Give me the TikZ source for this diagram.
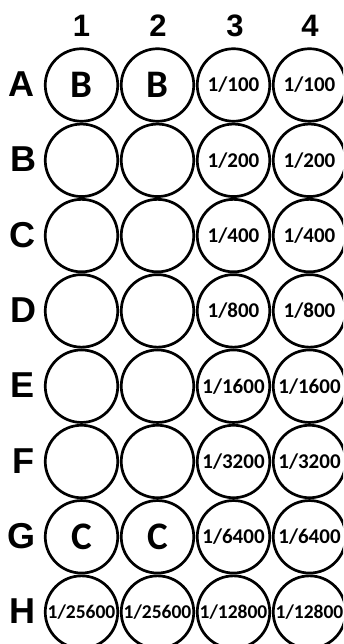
\documentclass[tikz,border=0pt]{standalone}
\usepackage{fontspec}
\setmainfont{Carlito}
\newfontfamily\headfont{Liberation Sans}

\begin{document}
\begin{tikzpicture}[x=1pt, y=-1pt,
    well/.style={circle, draw, line width=2.7pt, minimum size=72.5pt, inner sep=0pt, font=\fontsize{21}{21}\selectfont\bfseries},
    bigwell/.style={well, font=\fontsize{39}{39}\selectfont\bfseries},
    smallwell/.style={well, font=\fontsize{19.5}{19.5}\selectfont\bfseries},
    colhead/.style={inner sep=0pt, text height=22pt, text depth=0pt, font=\headfont\fontsize{31}{31}\selectfont\bfseries},
    rowhead/.style={inner sep=0pt, text height=25pt, text depth=0pt, font=\headfont\fontsize{36}{36}\selectfont\bfseries}]
        \useasboundingbox (0,0) rectangle (343,644);
        \clip (0,0) rectangle (343,644);
        % column numbers
        \node[colhead] (c1) at (81.5,26) {1};
        \node[colhead] (c2) at (158,26) {2};
        \node[colhead] (c3) at (235,26) {3};
        \node[colhead] (c4) at (310,26) {4};
        % row letters
        \node[rowhead] (rA) at (21,84) {A};
        \node[rowhead] (rB) at (23,159.3) {B};
        \node[rowhead] (rC) at (22,234.6) {C};
        \node[rowhead] (rD) at (23,309.9) {D};
        \node[rowhead] (rE) at (23,385.2) {E};
        \node[rowhead] (rF) at (23,460.5) {F};
        \node[rowhead] (rG) at (22,535.8) {G};
        \node[rowhead] (rH) at (22,611.1) {H};
        % row A
        \node[bigwell] (A1) at (81.5,85) {B};
        \node[bigwell] (A2) at (157.5,85) {B};
        \node[well] (A3) at (233.5,85) {1/100};
        \node[well] (A4) at (309.5,85) {1/100};
        % row B
        \node[well] (B1) at (81.5,160.3) {};
        \node[well] (B2) at (157.5,160.3) {};
        \node[well] (B3) at (233.5,160.3) {1/200};
        \node[well] (B4) at (309.5,160.3) {1/200};
        % row C
        \node[well] (C1) at (81.5,235.6) {};
        \node[well] (C2) at (157.5,235.6) {};
        \node[well] (C3) at (233.5,235.6) {1/400};
        \node[well] (C4) at (309.5,235.6) {1/400};
        % row D
        \node[well] (D1) at (81.5,310.9) {};
        \node[well] (D2) at (157.5,310.9) {};
        \node[well] (D3) at (233.5,310.9) {1/800};
        \node[well] (D4) at (309.5,310.9) {1/800};
        % row E
        \node[well] (E1) at (81.5,386.2) {};
        \node[well] (E2) at (157.5,386.2) {};
        \node[well] (E3) at (233.5,386.2) {1/1600};
        \node[well] (E4) at (309.5,386.2) {1/1600};
        % row F
        \node[well] (F1) at (81.5,461.5) {};
        \node[well] (F2) at (157.5,461.5) {};
        \node[well] (F3) at (233.5,461.5) {1/3200};
        \node[well] (F4) at (309.5,461.5) {1/3200};
        % row G
        \node[bigwell] (G1) at (81.5,536.8) {C};
        \node[bigwell] (G2) at (157.5,536.8) {C};
        \node[well] (G3) at (233.5,536.8) {1/6400};
        \node[well] (G4) at (309.5,536.8) {1/6400};
        % row H
        \node[smallwell] (H1) at (81.5,612.1) {1/25600};
        \node[smallwell] (H2) at (157.5,612.1) {1/25600};
        \node[smallwell] (H3) at (233.5,612.1) {1/12800};
        \node[smallwell] (H4) at (309.5,612.1) {1/12800};
    \end{tikzpicture}
\end{document}
